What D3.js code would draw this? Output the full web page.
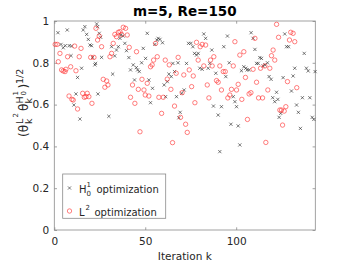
<!DOCTYPE html>
<html><head><meta charset="utf-8">
<script src="https://cdn.jsdelivr.net/npm/d3@7"></script>
<style>body{margin:0;background:#fff}svg{display:block}text{font-family:"DejaVu Sans",sans-serif}</style>
</head><body><svg id="c" width="341" height="266"></svg>
<script>
const title = "m=5, Re=150";
const xLabel = "Iteration k";
const xTicks = [0, 50, 100];
const yTicks = [0, 0.2, 0.4, 0.6, 0.8, 1];
const seriesNames = ["optimization", "optimization"];
// H^1_0 optimization (black x)
const h1K = [2.0,3.7,4.9,6.0,7.1,8.2,9.2,9.5,10.8,11.9,12.8,14.1,15.0,15.9,16.8,17.8,18.7,19.6,20.5,21.1,22.3,22.7,23.3,23.8,24.0,24.7,25.5,26.0,30.0,31.5,32.1,33.2,34.2,35.2,36.1,36.6,37.9,38.8,39.7,41.0,41.9,43.4,44.1,45.1,45.8,46.7,48.0,48.9,50.2,51.1,52.0,52.9,54.0,55.3,56.4,57.1,58.1,59.5,60.4,61.2,62.1,63.0,64.3,65.2,66.1,67.2,68.0,68.5,69.2,70.1,71.4,72.7,73.8,75.1,76.2,77.1,78.2,79.1,80.0,81.3,82.2,83.2,84.6,85.5,86.6,87.5,88.8,90.1,91.0,91.9,93.2,94.3,95.2,96.2,97.1,98.4,99.3,100.2,101.1,102.0,102.9,104.2,105.3,106.0,107.1,108.2,109.3,110.3,111.2,112.1,113.0,113.9,114.8,115.8,117.2,118.1,119.2,120.1,121.2,122.2,122.9,123.6,124.5,125.8,126.7,127.7,128.8,130.4,131.3,132.2,133.2,134.2,135.3,136.4,137.4,138.6,139.6,140.5,141.8,142.7,143.4];
const h1V = [0.944,0.888,0.872,0.882,0.957,0.882,0.834,0.88,0.598,0.651,0.73,0.531,0.774,0.957,0.973,0.936,0.912,0.885,0.882,0.826,0.79,0.797,0.986,0.973,0.651,0.941,0.922,0.826,0.544,0.877,0.746,0.833,0.861,0.877,0.917,0.933,0.928,0.893,0.858,0.825,0.766,0.79,0.718,0.777,0.766,0.758,0.8,0.869,0.821,0.941,0.718,0.609,0.678,0.888,0.909,0.917,0.912,0.896,0.694,0.638,0.71,0.746,0.734,0.797,0.758,0.638,0.8,0.537,0.563,0.654,0.67,0.797,0.893,0.893,0.877,0.845,0.837,0.845,0.774,0.769,0.938,0.917,0.774,0.797,0.861,0.593,0.75,0.55,0.375,0.59,0.877,0.734,0.928,0.8,0.506,0.638,0.614,0.59,0.498,0.407,0.762,0.781,0.774,0.766,0.766,0.944,0.917,0.864,0.797,0.797,0.825,0.821,0.785,0.79,0.8,0.734,0.721,0.633,0.614,0.659,0.625,0.539,0.558,0.729,0.938,0.877,0.877,0.665,0.737,0.774,0.598,0.563,0.486,0.633,0.845,0.774,0.761,0.633,0.539,0.529,0.758];
// L^2 optimization (red o)
const l2K = [0.5,1.6,2.2,3.1,4.0,4.9,5.9,6.4,7.3,8.1,9.0,9.7,10.4,11.2,11.9,12.8,13.7,14.7,15.6,16.5,17.4,18.1,19.0,20.0,20.7,21.8,22.9,23.8,24.7,26.0,26.9,27.8,28.8,29.5,30.6,31.5,32.4,33.3,34.2,35.2,36.1,37.0,37.9,39.2,40.1,41.2,41.9,43.0,44.3,45.2,46.2,47.1,48.2,49.3,50.0,51.1,52.0,52.9,53.8,54.6,55.7,56.6,57.5,59.0,59.9,61.0,62.1,63.2,64.1,65.0,66.1,67.0,68.1,69.4,70.3,71.2,72.2,73.1,74.2,75.5,76.4,77.3,78.2,79.1,80.2,81.3,82.2,83.2,84.1,85.0,85.9,86.8,87.7,89.2,90.1,91.0,91.9,92.9,94.0,95.4,96.5,97.4,98.4,99.3,100.2,101.1,102.0,103.1,104.2,105.1,106.2,107.1,108.1,109.3,110.3,111.2,112.3,113.4,114.5,115.8,116.3,117.4,118.5,119.4,120.3,121.2,122.2,123.3,124.0,124.9,125.5,126.4,127.3,128.2,129.3,130.0,131.3,132.2,133.3];
const l2V = [0.888,0.888,0.805,0.845,0.766,0.761,0.758,0.769,0.829,0.641,0.781,0.625,0.622,0.88,0.762,0.579,0.829,0.869,0.654,0.635,0.638,0.654,0.638,0.826,0.606,0.826,0.965,0.909,0.928,0.877,0.721,0.683,0.713,0.694,0.829,0.845,0.893,0.936,0.925,0.946,0.949,0.936,0.97,0.965,0.933,0.874,0.635,0.694,0.606,0.853,0.673,0.47,0.721,0.67,0.646,0.702,0.641,0.781,0.79,0.813,0.893,0.829,0.635,0.558,0.635,0.813,0.722,0.79,0.673,0.418,0.593,0.75,0.826,0.539,0.657,0.742,0.506,0.467,0.766,0.686,0.737,0.609,0.898,0.813,0.877,0.888,0.785,0.885,0.694,0.632,0.813,0.785,0.829,0.715,0.707,0.785,0.67,0.758,0.758,0.632,0.646,0.673,0.785,0.901,0.67,0.697,0.837,0.625,0.853,0.73,0.529,0.651,0.657,0.769,0.917,0.707,0.632,0.774,0.632,0.785,0.419,0.67,0.774,0.834,0.861,0.813,0.984,0.922,0.574,0.574,0.502,0.569,0.59,0.71,0.909,0.946,0.941,0.901,0.681];

const svg = d3.select("#c");
const L = 54.3, R = 315.3, T = 21, B = 230;
const x = d3.scaleLinear().domain([0, 143.5]).range([L, R]);
const y = d3.scaleLinear().domain([0, 1]).range([B, T]);
const axisCol = "#8a8a8a", textCol = "#262626";

// axes with inward ticks
const gx = svg.append("g").attr("transform", `translate(0,${B})`)
  .call(d3.axisBottom(x).tickValues(xTicks).tickSizeInner(-2.7).tickSizeOuter(0).tickPadding(8));
const gxt = svg.append("g").attr("transform", `translate(0,${T})`)
  .call(d3.axisTop(x).tickValues(xTicks).tickSizeInner(-2.7).tickSizeOuter(0).tickFormat(""));
const gy = svg.append("g").attr("transform", `translate(${L},0)`)
  .call(d3.axisLeft(y).tickValues(yTicks).tickSizeInner(-2.7).tickSizeOuter(0).tickPadding(5).tickFormat(d => d3.format("")(d)));
const gyr = svg.append("g").attr("transform", `translate(${R},0)`)
  .call(d3.axisRight(y).tickValues(yTicks).tickSizeInner(-2.7).tickSizeOuter(0).tickFormat(""));
[gx, gxt, gy, gyr].forEach(g => {
  g.select(".domain").remove();
  g.selectAll("line").attr("stroke", axisCol).attr("stroke-width", 0.8);
  g.selectAll("text").attr("fill", textCol).style("font-size", "10.5px").style("font-family", '"DejaVu Sans",sans-serif');
});
svg.append("rect").attr("x", L).attr("y", T).attr("width", R - L).attr("height", B - T)
  .attr("fill", "none").attr("stroke", axisCol).attr("stroke-width", 0.8);

// points
const xs = 1.6;
const h1 = svg.append("g");
h1K.forEach((k, i) => {
  const cx = x(k), cy = y(h1V[i]);
  h1.append("path").attr("d", `M${cx-xs},${cy-xs}L${cx+xs},${cy+xs}M${cx-xs},${cy+xs}L${cx+xs},${cy-xs}`)
    .attr("stroke", "#222").attr("stroke-width", 0.6).attr("fill", "none");
});
svg.append("g").selectAll("circle").data(l2K).join("circle")
  .attr("cx", d => x(d)).attr("cy", (d, i) => y(l2V[i])).attr("r", 2.2)
  .attr("fill", "none").attr("stroke", "#ff2a2a").attr("stroke-width", 0.6);

// title
svg.append("text").attr("x", (L + R) / 2).attr("y", 15.5).attr("text-anchor", "middle")
  .style("font-size", "13.5px").style("font-weight", "bold").attr("fill", "#000").text(title);
// x label
svg.append("text").attr("x", (L + R) / 2).attr("y", 260).attr("text-anchor", "middle")
  .style("font-size", "10.5px").attr("fill", textCol).text(xLabel);

// y label (rotated, with stacked super/subscripts)
const yl = svg.append("g").attr("transform", "translate(28,137) rotate(-90)").attr("fill", textCol);
function t(str, px, py, fs) { yl.append("text").attr("x", px).attr("y", py).style("font-size", fs + "px").text(str); }
t("(θ", 0, 0, 12);
t("k", 13, 4, 9.5); t("L", 13, -5.5, 9.5); t("2", 19.5, -10, 7);
t("θ", 26, 0, 12);
t("k", 33.5, 4, 9.5); t("H", 33.5, -5.5, 9.5); t("1", 41.5, -10.5, 7); t("0", 41.5, -2, 7);
t(")", 48.5, 0, 12);
t("1/2", 53, -5.5, 9.5);

// legend
const lg = svg.append("g");
lg.append("rect").attr("x", 62.7).attr("y", 174).attr("width", 103).attr("height", 44.3)
  .attr("fill", "#fff").attr("stroke", axisCol).attr("stroke-width", 0.8);
const mx = 69.5, r1 = 188, r2 = 211;
lg.append("path").attr("d", `M${mx-xs},${r1-xs}L${mx+xs},${r1+xs}M${mx-xs},${r1+xs}L${mx+xs},${r1-xs}`)
  .attr("stroke", "#222").attr("stroke-width", 0.6);
lg.append("circle").attr("cx", mx).attr("cy", r2).attr("r", 2.2).attr("fill", "none").attr("stroke", "#ff2a2a").attr("stroke-width", 0.6);
function lt(str, px, py, fs) { lg.append("text").attr("x", px).attr("y", py).attr("fill", textCol).style("font-size", fs + "px").text(str); }
lt("H", 79, 192.5, 10); lt("1", 86.5, 187, 7); lt("0", 86.5, 196, 7); lt(seriesNames[0], 96.5, 192.5, 10);
lt("L", 79, 215.5, 10); lt("2", 85.5, 210, 7); lt(seriesNames[1], 94.5, 215.5, 10);
</script></body></html>
